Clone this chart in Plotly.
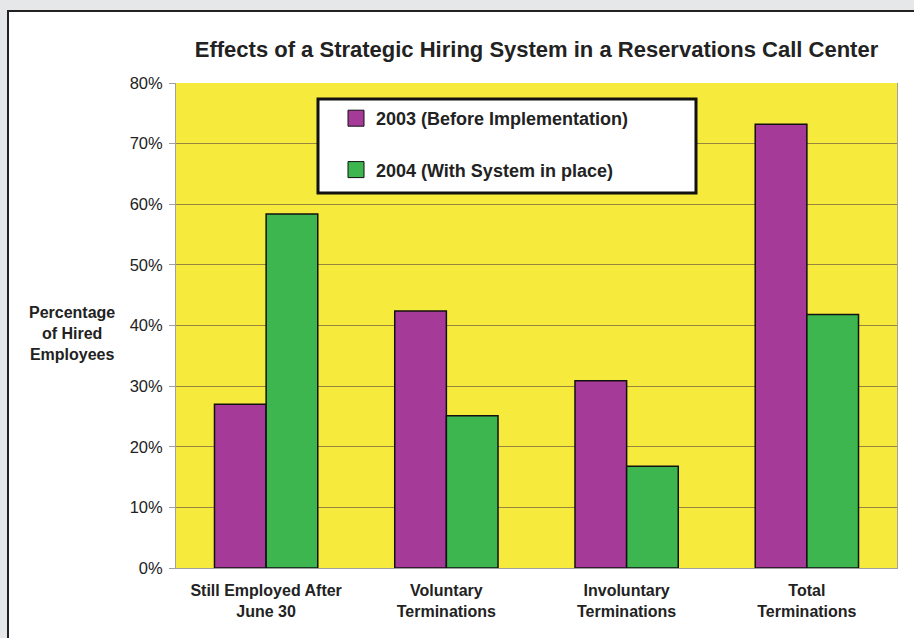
import plotly.graph_objects as go

categories = ["Still Employed After<br>June 30", "Voluntary<br>Terminations",
              "Involuntary<br>Terminations", "Total<br>Terminations"]
series_2003 = [0.27, 0.424, 0.309, 0.732]
series_2004 = [0.584, 0.251, 0.168, 0.418]
name_2003 = "2003 (Before Implementation)"
name_2004 = "2004 (With System in place)"
y_ticks = [0, 0.1, 0.2, 0.3, 0.4, 0.5, 0.6, 0.7, 0.8]

W, H = 914, 638
L, R, T, B = 176, 17, 83, 70
pw, ph = W - L - R, H - T - B

def px(x):
    return (x - L) / pw

def py(y):
    return (H - B - y) / ph

FONT = "Liberation Sans, Arial, sans-serif"
PURPLE = "#a63a98"
GREEN = "#3db650"
YELLOW = "#f6eb3c"

fig = go.Figure()
fig.add_trace(go.Bar(x=categories, y=series_2003, name=name_2003, showlegend=False,
                     marker=dict(color=PURPLE, line=dict(color="#111111", width=1.5))))
fig.add_trace(go.Bar(x=categories, y=series_2004, name=name_2004, showlegend=False,
                     marker=dict(color=GREEN, line=dict(color="#111111", width=1.5))))
# legend entries (larger square swatches, as in the original)
for nm, col, grp in [(name_2003, PURPLE, "a"), (name_2004, GREEN, "b")]:
    fig.add_trace(go.Scatter(x=[None], y=[None], mode="markers", name="<b>" + nm + "</b>",
                             legendgroup=grp, hoverinfo="skip",
                             marker=dict(symbol="square", size=20, color=col,
                                         line=dict(color="#111111", width=1))))

shapes = [
    # white panel with dark border
    dict(type="rect", xref="paper", yref="paper", x0=px(8), x1=px(930), y0=py(11), y1=py(660),
         fillcolor="white", line=dict(color="#222222", width=2), layer="below"),
    # yellow plot area
    dict(type="rect", xref="x domain", yref="y domain", x0=0, x1=1, y0=0, y1=1,
         fillcolor=YELLOW, line=dict(width=0), layer="below"),
    # legend box
    dict(type="rect", xref="paper", yref="paper", x0=px(318), x1=px(696), y0=py(99), y1=py(193),
         fillcolor="white", line=dict(color="#111111", width=3), layer="above"),
]

fig.update_layout(
    width=W, height=H,
    margin=dict(l=L, r=R, t=T, b=B),
    paper_bgcolor="#e6e7e9",
    plot_bgcolor=YELLOW,
    font=dict(family=FONT, color="#222222", size=16),
    barmode="group", bargap=0.427, bargroupgap=0,
    title=dict(text="<b>Effects of a Strategic Hiring System in a Reservations Call Center</b>",
               x=0.5, xref="paper", xanchor="center", y=1 - 49 / H, yanchor="middle",
               font=dict(size=22, family=FONT, color="#222222")),
    showlegend=True,
    legend=dict(x=px(336), y=py(100), xanchor="left", yanchor="top",
                bgcolor="rgba(0,0,0,0)", borderwidth=0, itemsizing="trace",
                font=dict(size=18, family=FONT, color="#222222"),
                tracegroupgap=25, traceorder="grouped"),
    shapes=shapes,
    annotations=[dict(text="<b>Percentage<br>of Hired<br>Employees</b>", xref="paper", yref="paper",
                      x=px(72), y=py(333), xanchor="center", yanchor="middle", showarrow=False,
                      font=dict(size=16, family=FONT, color="#222222"))],
)
fig.update_yaxes(range=[0, 0.8], tickvals=y_ticks, tickformat=".0%",
                 showgrid=True, gridcolor="#978640", gridwidth=1,
                 showline=True, linecolor="#a0a0a0", linewidth=1, mirror=True,
                 ticks="outside", ticklen=6, tickcolor="#a0a0a0", ticklabelstandoff=3,
                 zeroline=False, tickfont=dict(size=16.5))
fig.update_xaxes(showline=True, linecolor="#a0a0a0", linewidth=1, ticks="",
                 ticklabelstandoff=8,
                 tickfont=dict(size=16, family=FONT, color="#222222"),
                 tickprefix="<b>", ticksuffix="</b>")

fig.write_html("out.html", config={"displayModeBar": False},
               post_script="document.body.style.margin='0';")
